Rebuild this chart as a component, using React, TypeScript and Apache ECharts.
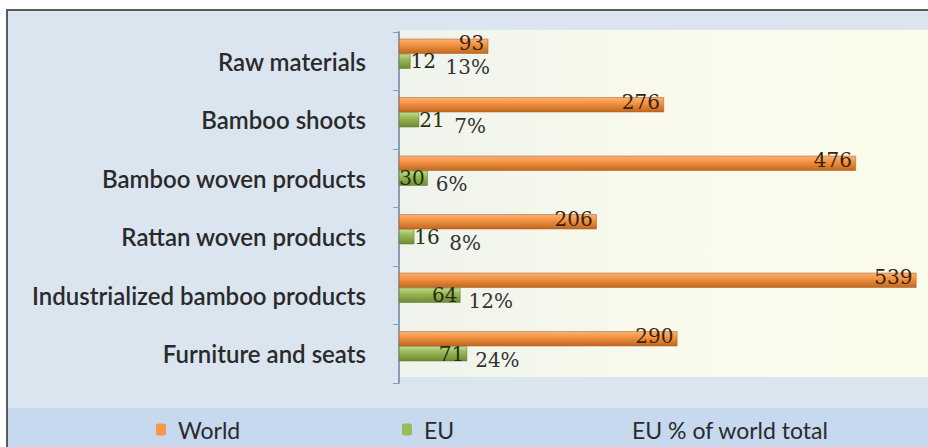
import React, { useEffect, useRef } from "react";
import * as echarts from "echarts";

const categories = [
  "Raw materials",
  "Bamboo shoots",
  "Bamboo woven products",
  "Rattan woven products",
  "Industrialized bamboo products",
  "Furniture and seats",
];
const worldValues = [93, 276, 476, 206, 539, 290];
const euValues = [12, 21, 30, 16, 64, 71];
const euPctLabels = ["13%", "7%", "6%", "8%", "12%", "24%"];
const seriesNames = ["World", "EU", "EU % of world total"];

const labelFont = "Lato, 'Noto Sans', sans-serif";
const numFont = "'DejaVu Serif', 'Liberation Serif', serif";

export default function App() {
  const ref = useRef<HTMLDivElement>(null);
  useEffect(() => {
    document.body.style.margin = "0";
    const chart = echarts.init(ref.current!, null, { renderer: "svg" });
    const orange = new echarts.graphic.LinearGradient(0, 0, 0, 1, [
      { offset: 0, color: "#f6b27a" },
      { offset: 0.35, color: "#f79646" },
      { offset: 1, color: "#c0671f" },
    ]);
    const green = new echarts.graphic.LinearGradient(0, 0, 0, 1, [
      { offset: 0, color: "#c4dc8e" },
      { offset: 0.35, color: "#9bbb59" },
      { offset: 1, color: "#6e8a33" },
    ]);
    const legendText = {
      fontFamily: labelFont,
      fontSize: 23,
      color: "#2b2b2b",
      padding: [0, 0, 0, 7],
    };
    const legendBase = {
      top: 418,
      padding: 0,
      itemWidth: 10,
      itemHeight: 12,
      textStyle: legendText,
    };
    const option: any = {
      animation: false,
      graphic: [
        {
          type: "rect",
          z: -10,
          shape: { x: 7, y: 10, width: 930, height: 450 },
          style: {
            fill: "#dbe5f0",
            stroke: "#5a5a5a",
            lineWidth: 2,
          },
        },
        {
          type: "rect",
          z: -9,
          shape: { x: 8, y: 408, width: 930, height: 40 },
          style: { fill: "#c7d9ee" },
        },
        {
          type: "rect",
          z: -9,
          shape: { x: 400, y: 30, width: 530, height: 347 },
          style: {
            fill: new echarts.graphic.LinearGradient(0, 0, 1, 0, [
              { offset: 0, color: "#eff3ec" },
              { offset: 0.5, color: "#f9faec" },
              { offset: 1, color: "#fcfcec" },
            ]),
          },
        },
      ],
      legend: [
        {
          ...legendBase,
          data: [{ name: seriesNames[0], itemStyle: { color: "#f79646", borderWidth: 0 } }],
          left: 156,
        },
        {
          ...legendBase,
          data: [{ name: seriesNames[1], itemStyle: { color: "#9bbb59", borderWidth: 0 } }],
          left: 402,
        },
        {
          ...legendBase,
          data: [{ name: seriesNames[2], itemStyle: { opacity: 0, borderWidth: 0 } }],
          left: 610,
        },
      ],
      grid: { left: 399, top: 32, width: 528, height: 351, containLabel: false },
      xAxis: {
        type: "value",
        min: 0,
        max: 550,
        show: false,
      },
      yAxis: {
        type: "category",
        inverse: true,
        data: categories,
        axisLine: { show: true, lineStyle: { color: "#8b9bb3", width: 2 } },
        axisTick: { show: true, length: 6, lineStyle: { color: "#8b9bb3", width: 1 } },
        axisLabel: {
          margin: 33,
          fontFamily: labelFont,
          fontSize: 24,
          fontWeight: 600,
          color: "#2a2a2a",
        },
        splitLine: { show: false },
      },
      series: [
        {
          name: seriesNames[0],
          type: "bar",
          data: worldValues,
          barWidth: 15,
          barGap: "0%",
          barCategoryGap: "23%",
          itemStyle: { color: orange, borderColor: "#a85a1c", borderWidth: 0.5 },
          label: {
            show: true,
            position: "insideRight",
            distance: 4,
            offset: [0, -3],
            fontFamily: numFont,
            fontSize: 20,
            lineHeight: 14,
            color: "#3a2410",
          },
        },
        {
          name: seriesNames[1],
          type: "bar",
          barWidth: 15,
          barGap: "0%",
          data: euValues.map((v) => ({
            value: v,
            label: {
              position: v >= 30 ? "insideRight" : "right",
              distance: v >= 30 ? 3 : 0,
            },
          })),
          itemStyle: { color: green, borderColor: "#5f7a2a", borderWidth: 0.5 },
          label: {
            show: true,
            fontFamily: numFont,
            fontSize: 20,
            lineHeight: 14,
            color: "#24300f",
          },
        },
        {
          name: seriesNames[2],
          type: "bar",
          barWidth: 15,
          barGap: "0%",
          data: euValues.map((v) => ({
            value: v,
            label: { offset: [v >= 30 ? 8 : 35, -9] },
          })),
          itemStyle: { color: "rgba(0,0,0,0)" },
          label: {
            show: true,
            position: "right",
            distance: 0,
            formatter: (p: any) => euPctLabels[p.dataIndex],
            fontFamily: numFont,
            fontSize: 20,
            lineHeight: 14,
            color: "#333333",
          },
        },
      ],
    };
    chart.setOption(option);
    return () => chart.dispose();
  }, []);
  return <div ref={ref} style={{ width: 928, height: 447 }} />;
}
